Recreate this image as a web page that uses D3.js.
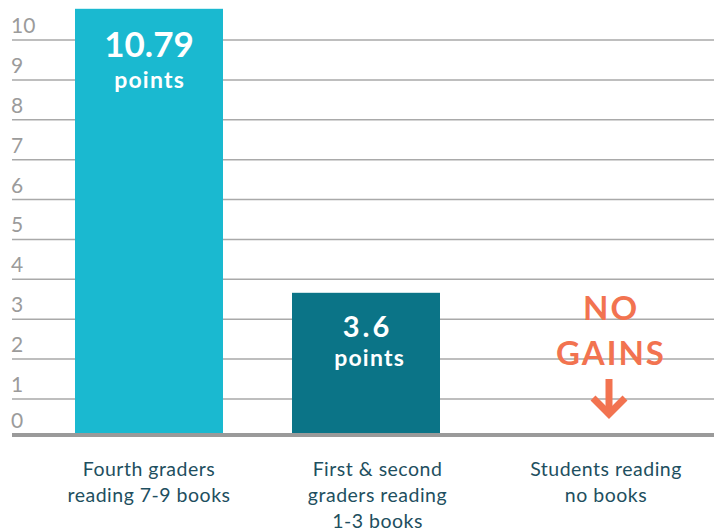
<!DOCTYPE html>
<html>
<head>
<script src="https://d3js.org/d3.v7.min.js"></script>
<style>
  body { margin: 0; background: #fff; }
  svg { display: block; font-family: Lato, "Open Sans", sans-serif; }
</style>
</head>
<body>
<div id="chart"></div>
<script>
// data
const categories = ["Fourth graders|reading 7-9 books", "First & second|graders reading|1-3 books", "Students reading|no books"];
const values = [10.79, 3.6, 0];
const valueLabels = ["10.79", "3.6", ""];
const tickValues = [0, 1, 2, 3, 4, 5, 6, 7, 8, 9, 10];
const barColors = ["#1ab9d0", "#0b7487", "none"];

const width = 714, height = 531;
const svg = d3.select("#chart").append("svg")
    .attr("width", width)
    .attr("height", height);

const baseY = 435;

// value scale for the bars
const y = d3.scaleLinear().domain([0, 11]).range([baseY, baseY - 11 * 39.5]);
// scale for the gridlines (grid is drawn a bit off from the values, as in the original)
const yGrid = d3.scaleLinear().domain([1, 10]).range([399, 40]);

const xBar = d3.scalePoint().domain(categories).range([149, 583]);
const xLab = d3.scalePoint().domain(categories).range([149, 606]);
const barW = 148;

// gridlines
svg.append("g").selectAll("line")
    .data(tickValues.filter(d => d > 0))
    .join("line")
    .attr("x1", 12).attr("x2", width)
    .attr("y1", d => yGrid(d)).attr("y2", d => yGrid(d))
    .attr("stroke", "#a9a9a9")
    .attr("stroke-width", 1.5);

// tick labels sit just above their line
svg.append("g").selectAll("text")
    .data(tickValues)
    .join("text")
    .attr("x", 11)
    .attr("y", d => (d === 0 ? baseY : yGrid(d)) - 7)
    .attr("fill", "#9b9b9b")
    .attr("font-size", 21)
    .text(d => d);

// bars
svg.append("g").selectAll("rect")
    .data(categories)
    .join("rect")
    .attr("x", d => xBar(d) - barW / 2)
    .attr("y", (d, i) => y(values[i]))
    .attr("width", barW)
    .attr("height", (d, i) => baseY - y(values[i]))
    .attr("fill", (d, i) => barColors[i]);

// baseline
svg.append("line")
    .attr("x1", 12).attr("x2", width)
    .attr("y1", baseY).attr("y2", baseY)
    .attr("stroke", "#9a9a9a")
    .attr("stroke-width", 4);

// helper for bold centred text (letter-spacing adds a trailing gap, so nudge by half)
function bold(x, yy, size, ls, fill, txt) {
    svg.append("text")
        .attr("x", x + ls / 2).attr("y", yy)
        .attr("text-anchor", "middle").attr("fill", fill)
        .attr("font-weight", 700).attr("font-size", size)
        .attr("letter-spacing", ls)
        .text(txt);
}

// value labels inside the bars
bold(xBar(categories[0]), 57, 35, 0, "#fff", valueLabels[0]);
bold(xBar(categories[0]), 88, 23, 1.2, "#fff", "points");
bold(xBar(categories[1]), 337, 29, 3, "#fff", valueLabels[1]);
bold(xBar(categories[1]) + 3, 366, 23, 1.2, "#fff", "points");

// "no gains" note for the third category
const cx = xLab(categories[2]) + 4;
const orange = "#f27350";
bold(cx, 320, 33, 2, orange, "NO");
bold(cx, 365, 33, 2, orange, "GAINS");
svg.append("line")
    .attr("x1", cx - 1).attr("x2", cx - 1)
    .attr("y1", 379).attr("y2", 414)
    .attr("stroke", orange).attr("stroke-width", 7);
svg.append("path")
    .attr("d", `M${cx - 17},${398} L${cx - 1},${414} L${cx + 15},${398}`)
    .attr("fill", "none")
    .attr("stroke", orange).attr("stroke-width", 7);

// category labels
categories.forEach(c => {
    const t = svg.append("text")
        .attr("text-anchor", "middle")
        .attr("fill", "#1e4f60")
        .attr("font-size", 19.5)
        .attr("letter-spacing", 0.5);
    c.split("|").forEach((line, j) => {
        t.append("tspan")
            .attr("x", xLab(c))
            .attr("y", 476 + j * 26)
            .text(line);
    });
});
</script>
</body>
</html>
